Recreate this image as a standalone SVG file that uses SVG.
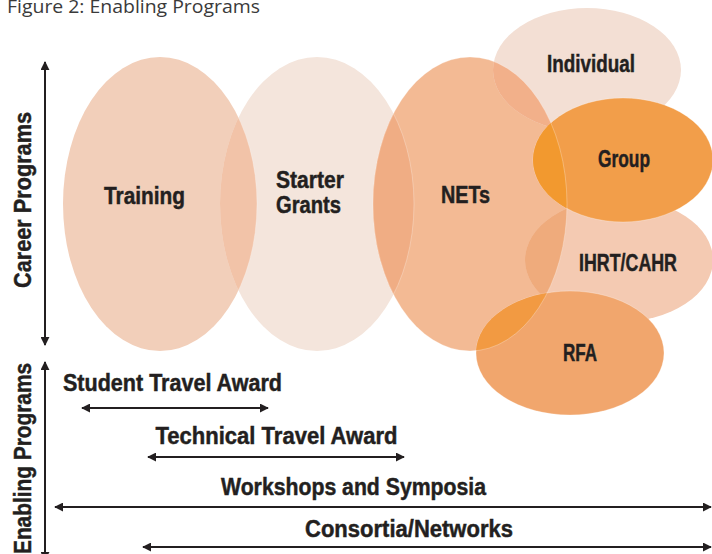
<svg xmlns="http://www.w3.org/2000/svg" xmlns:xlink="http://www.w3.org/1999/xlink" width="712" height="554" viewBox="0 0 712 554">
<style>
.lbl{font-family:"Liberation Sans",Arial,sans-serif;font-weight:bold;font-size:23px;fill:#231f20;stroke:#231f20;stroke-width:0.45;text-anchor:middle}
.edge{stroke:#fff;stroke-opacity:0.35;stroke-width:0.8}
.conn line{stroke:#231f20;stroke-width:2;marker-start:url(#ah);marker-end:url(#ah)}
</style>
<defs>
<marker id="ah" viewBox="0 0 10 10" refX="9" refY="5" markerWidth="9" markerHeight="9" markerUnits="userSpaceOnUse" orient="auto-start-reverse">
<path d="M0,0 L10,5 L0,10 z" fill="#231f20"/>
</marker>
<ellipse id="eTr" cx="160" cy="204" rx="97" ry="147"/>
<ellipse id="eSt" cx="317" cy="204" rx="97" ry="147"/>
<ellipse id="eNe" cx="470" cy="204" rx="97" ry="147"/>
<ellipse id="eIn" cx="587" cy="70" rx="94" ry="62"/>
<ellipse id="eGr" cx="623" cy="160" rx="90" ry="62"/>
<ellipse id="eIh" cx="619" cy="260" rx="94" ry="62"/>
<ellipse id="eRf" cx="570" cy="353" rx="94" ry="62"/>
<clipPath id="cTr"><use xlink:href="#eTr"/></clipPath>
<clipPath id="cSt"><use xlink:href="#eSt"/></clipPath>
<clipPath id="cNe"><use xlink:href="#eNe"/></clipPath>
</defs>
<rect width="712" height="554" fill="#fff"/>
<text x="7" y="13" font-family="Open Sans,Lato,sans-serif" font-size="19" fill="#3a3a3a" textLength="253" lengthAdjust="spacingAndGlyphs">Figure 2: Enabling Programs</text>

<g id="training">
<use xlink:href="#eTr" fill="#F2CFBA"/>
</g>
<g id="starter-grants">
<use xlink:href="#eSt" fill="#F4E5DC"/>
<use xlink:href="#eSt" fill="#F2C3A8" clip-path="url(#cTr)"/>
<use xlink:href="#eTr" fill="none" class="edge" clip-path="url(#cSt)"/>
</g>
<g id="nets">
<use xlink:href="#eNe" fill="#F3BA94"/>
<use xlink:href="#eNe" fill="#F0AD84" clip-path="url(#cSt)"/>
<use xlink:href="#eSt" fill="none" class="edge" clip-path="url(#cNe)"/>
</g>
<g id="individual">
<use xlink:href="#eIn" fill="#F3DFD4"/>
<use xlink:href="#eIn" fill="#F2B08A" clip-path="url(#cNe)"/>
</g>
<g id="ihrt-cahr">
<use xlink:href="#eIh" fill="#F4CAB2"/>
<use xlink:href="#eIh" fill="#EFAB7C" clip-path="url(#cNe)"/>
</g>
<g id="group">
<use xlink:href="#eGr" fill="#F29E4A" class="edge"/>
<use xlink:href="#eGr" fill="#F2992F" clip-path="url(#cNe)"/>
</g>
<g id="rfa">
<use xlink:href="#eRf" fill="#F1A66D" class="edge"/>
<use xlink:href="#eRf" fill="#F29A42" clip-path="url(#cNe)"/>
</g>
<use xlink:href="#eNe" fill="none" class="edge"/>

<g id="labels">
<text class="lbl" x="144.5" y="204" textLength="81" lengthAdjust="spacingAndGlyphs">Training</text>
<text class="lbl" x="310" y="188" textLength="68" lengthAdjust="spacingAndGlyphs">Starter</text>
<text class="lbl" x="308.5" y="213" textLength="65" lengthAdjust="spacingAndGlyphs">Grants</text>
<text class="lbl" x="465.5" y="203" textLength="49" lengthAdjust="spacingAndGlyphs">NETs</text>
<text class="lbl" x="591" y="72" textLength="88" lengthAdjust="spacingAndGlyphs">Individual</text>
<text class="lbl" x="624" y="167" textLength="52" lengthAdjust="spacingAndGlyphs">Group</text>
<text class="lbl" x="628" y="271" textLength="98" lengthAdjust="spacingAndGlyphs">IHRT/CAHR</text>
<text class="lbl" x="580" y="361" textLength="34" lengthAdjust="spacingAndGlyphs">RFA</text>
</g>

<g id="axis-career">
<text class="lbl" font-size="24" transform="translate(31,200) rotate(-90)" x="0" y="0" textLength="176" lengthAdjust="spacingAndGlyphs">Career Programs</text>
</g>
<g id="axis-enabling">
<text class="lbl" font-size="24" transform="translate(31,458.5) rotate(-90)" x="0" y="0" textLength="191" lengthAdjust="spacingAndGlyphs">Enabling Programs</text>
</g>
<g id="enabling-labels">
<text class="lbl" x="172.5" y="391" textLength="219" lengthAdjust="spacingAndGlyphs">Student Travel Award</text>
<text class="lbl" x="276.5" y="444" textLength="242" lengthAdjust="spacingAndGlyphs">Technical Travel Award</text>
<text class="lbl" x="353.5" y="495" font-size="24" textLength="265" lengthAdjust="spacingAndGlyphs">Workshops and Symposia</text>
<text class="lbl" x="409" y="537" font-size="24" textLength="208" lengthAdjust="spacingAndGlyphs">Consortia/Networks</text>
</g>

<g id="connectors" class="conn">
<line x1="45" y1="62" x2="45" y2="345"/>
<line x1="45" y1="362" x2="45" y2="560"/>
<line x1="82" y1="408" x2="268" y2="408"/>
<line x1="148" y1="457" x2="404" y2="457"/>
<line x1="55" y1="507" x2="711" y2="507"/>
<line x1="143" y1="547" x2="711" y2="547"/>
</g>
</svg>
